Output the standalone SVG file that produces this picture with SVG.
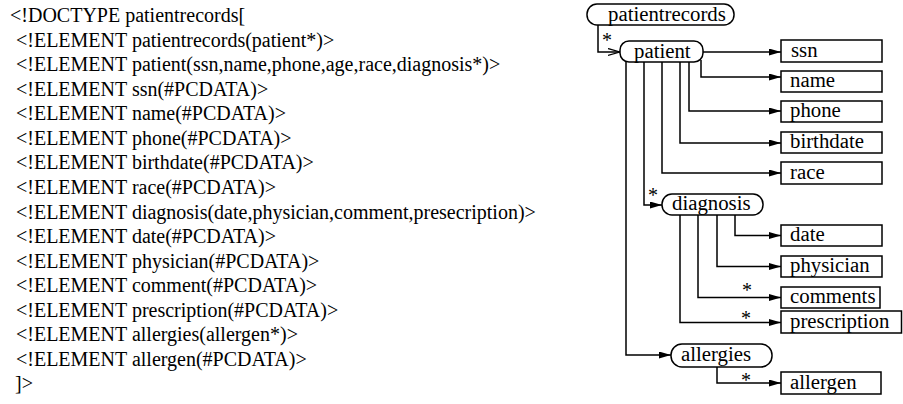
<svg xmlns="http://www.w3.org/2000/svg" width="903" height="404" viewBox="0 0 903 404">
<style>
.dtd{font-family:"Liberation Serif","Times New Roman",serif;font-size:20px;fill:#000}
.lbl{font-family:"Liberation Serif","Times New Roman",serif;font-size:20.8px;fill:#000}
.star{font-family:"Liberation Serif","Times New Roman",serif;font-size:20px;fill:#000;text-anchor:middle}
.node{fill:#fff;stroke:#000;stroke-width:1.5}
.con{fill:none;stroke:#000;stroke-width:1.5}
</style>
<defs>
<marker id="arr" markerUnits="userSpaceOnUse" markerWidth="13" markerHeight="8" refX="12" refY="3.5" orient="auto">
<path d="M0,0 L12,3.5 L0,7 z" fill="#000"/>
</marker>
<marker id="open" markerUnits="userSpaceOnUse" markerWidth="14" markerHeight="10" refX="12" refY="4.5" orient="auto">
<path d="M0,1 L12,4.5 L0,8" fill="none" stroke="#000" stroke-width="1.3"/>
</marker>
</defs>
<g id="dtd-text">
<text class="dtd" x="10" y="22">&lt;!DOCTYPE patientrecords[</text>
<text class="dtd" x="16" y="47">&lt;!ELEMENT patientrecords(patient*)&gt;</text>
<text class="dtd" x="16" y="71">&lt;!ELEMENT patient(ssn,name,phone,age,race,diagnosis*)&gt;</text>
<text class="dtd" x="16" y="96">&lt;!ELEMENT ssn(#PCDATA)&gt;</text>
<text class="dtd" x="16" y="120">&lt;!ELEMENT name(#PCDATA)&gt;</text>
<text class="dtd" x="16" y="145">&lt;!ELEMENT phone(#PCDATA)&gt;</text>
<text class="dtd" x="16" y="169">&lt;!ELEMENT birthdate(#PCDATA)&gt;</text>
<text class="dtd" x="16" y="194">&lt;!ELEMENT race(#PCDATA)&gt;</text>
<text class="dtd" x="16" y="219">&lt;!ELEMENT diagnosis(date,physician,comment,presecription)&gt;</text>
<text class="dtd" x="16" y="243">&lt;!ELEMENT date(#PCDATA)&gt;</text>
<text class="dtd" x="16" y="268">&lt;!ELEMENT physician(#PCDATA)&gt;</text>
<text class="dtd" x="16" y="292">&lt;!ELEMENT comment(#PCDATA)&gt;</text>
<text class="dtd" x="16" y="317">&lt;!ELEMENT prescription(#PCDATA)&gt;</text>
<text class="dtd" x="16" y="341">&lt;!ELEMENT allergies(allergen*)&gt;</text>
<text class="dtd" x="16" y="366">&lt;!ELEMENT allergen(#PCDATA)&gt;</text>
<text class="dtd" x="15" y="390">]&gt;</text>
</g>
<g id="connectors">
<path class="con" d="M598,25 V52 H620" marker-end="url(#open)"/>
<path class="con" d="M703,52 H781" marker-end="url(#arr)"/>
<path class="con" d="M701,60 V77 H781" marker-end="url(#arr)"/>
<path class="con" d="M689,62 V111 H781" marker-end="url(#arr)"/>
<path class="con" d="M680,62 V143 H781" marker-end="url(#arr)"/>
<path class="con" d="M662,62 V173 H781" marker-end="url(#arr)"/>
<path class="con" d="M644,62 V205 H662" marker-end="url(#arr)"/>
<path class="con" d="M626,62 V355 H671" marker-end="url(#arr)"/>
<path class="con" d="M735,215 V235.5 H781" marker-end="url(#arr)"/>
<path class="con" d="M717,215 V266.5 H781" marker-end="url(#arr)"/>
<path class="con" d="M698,215 V297.5 H781" marker-end="url(#arr)"/>
<path class="con" d="M680,215 V322.5 H781" marker-end="url(#arr)"/>
<path class="con" d="M717,367 V383 H781" marker-end="url(#arr)"/>
<text class="star" x="607" y="47">*</text>
<text class="star" x="653" y="202">*</text>
<text class="star" x="747" y="297">*</text>
<text class="star" x="746" y="325">*</text>
<text class="star" x="746" y="387">*</text>
</g>
<g id="patientrecords">
<rect class="node" x="587" y="4" width="147" height="21" rx="10"/>
<text class="lbl" x="608" y="21">patientrecords</text>
</g>
<g id="patient">
<rect class="node" x="620" y="41" width="83" height="21" rx="9"/>
<text class="lbl" x="634" y="58">patient</text>
</g>
<g id="ssn">
<rect class="node" x="781" y="40" width="101" height="22"/>
<text class="lbl" x="791" y="57">ssn</text>
</g>
<g id="name">
<rect class="node" x="781" y="71" width="101" height="21"/>
<text class="lbl" x="790" y="87">name</text>
</g>
<g id="phone">
<rect class="node" x="781" y="101" width="101" height="21"/>
<text class="lbl" x="790" y="117">phone</text>
</g>
<g id="birthdate">
<rect class="node" x="781" y="132" width="101" height="21"/>
<text class="lbl" x="790" y="148">birthdate</text>
</g>
<g id="race">
<rect class="node" x="781" y="162" width="101" height="22"/>
<text class="lbl" x="790" y="179">race</text>
</g>
<g id="diagnosis">
<rect class="node" x="662" y="194" width="101" height="21" rx="10"/>
<text class="lbl" x="672" y="210">diagnosis</text>
</g>
<g id="date">
<rect class="node" x="781" y="225" width="101" height="21"/>
<text class="lbl" x="790" y="241">date</text>
</g>
<g id="physician">
<rect class="node" x="781" y="256" width="101" height="21"/>
<text class="lbl" x="790" y="272">physician</text>
</g>
<g id="comments">
<rect class="node" x="781" y="287" width="99" height="21"/>
<text class="lbl" x="790" y="303">comments</text>
</g>
<g id="prescription">
<rect class="node" x="781" y="311" width="120.5" height="22"/>
<text class="lbl" x="790" y="328">prescription</text>
</g>
<g id="allergies">
<rect class="node" x="671" y="344" width="101" height="23" rx="11"/>
<text class="lbl" x="681" y="361">allergies</text>
</g>
<g id="allergen">
<rect class="node" x="781" y="372" width="100" height="22"/>
<text class="lbl" x="790" y="389">allergen</text>
</g>
</svg>
